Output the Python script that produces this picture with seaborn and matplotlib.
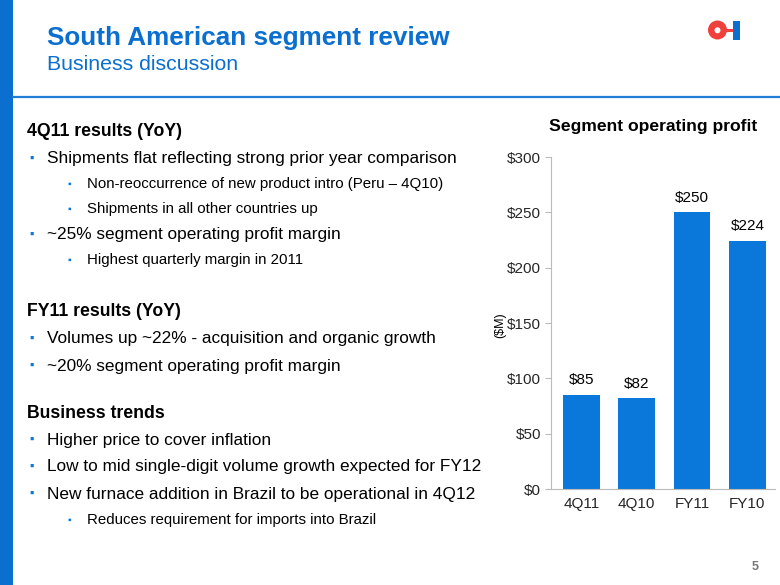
import matplotlib
matplotlib.use("Agg")
import matplotlib.pyplot as plt
import matplotlib.patches as mpatches
import pandas as pd
import seaborn as sns

# chart data
periods = ["4Q11", "4Q10", "FY11", "FY10"]
profit = [85, 82, 250, 224]
ytick_vals = [0, 50, 100, 150, 200, 250, 300]

# slide text
title = "South American segment review"
subtitle = "Business discussion"
chart_title = "Segment operating profit"
# (level, text): 0 = header, 1 = bullet, 2 = sub-bullet
bullets = [
    (0, "4Q11 results (YoY)"),
    (1, "Shipments flat reflecting strong prior year comparison"),
    (2, "Non-reoccurrence of new product intro (Peru \u2013 4Q10)"),
    (2, "Shipments in all other countries up"),
    (1, "~25% segment operating profit margin"),
    (2, "Highest quarterly margin in 2011"),
    (0, "FY11 results (YoY)"),
    (1, "Volumes up ~22% - acquisition and organic growth"),
    (1, "~20% segment operating profit margin"),
    (0, "Business trends"),
    (1, "Higher price to cover inflation"),
    (1, "Low to mid single-digit volume growth expected for FY12"),
    (1, "New furnace addition in Brazil to be operational in 4Q12"),
    (2, "Reduces requirement for imports into Brazil"),
]
bullet_y = [132, 159, 184, 209, 235, 260, 312, 339, 366, 413, 440, 467, 494, 520]

sns.set_theme(style="white")
plt.rcParams["font.family"] = ["Liberation Sans", "DejaVu Sans"]

BLUE = "#0A77DA"
DARKBLUE = "#0A6FCF"
RED = "#F0403C"
W, H = 780, 585
fig = plt.figure(figsize=(7.8, 5.85), dpi=100)
fig.patch.set_facecolor("white")

# overlay in pixel coordinates for slide decoration and text
bg = fig.add_axes([0, 0, 1, 1])
bg.set_xlim(0, W)
bg.set_ylim(H, 0)
bg.axis("off")

bg.add_patch(mpatches.Rectangle((0, 0), 13, H, color=DARKBLUE, lw=0))
bg.plot([13, W], [97, 97], color="#1F7FD8", lw=1.6)

bg.text(47, 38, title, fontsize=18.8, fontweight="bold", color=DARKBLUE,
        va="center", ha="left")
bg.text(47, 65, subtitle, fontsize=15.3, color=DARKBLUE, va="center", ha="left")

# logo
bg.add_patch(mpatches.Rectangle((724, 28.5), 10, 3.5, facecolor=RED, lw=0))
bg.add_patch(mpatches.Circle((717.5, 30), 9.5, facecolor=RED, lw=0))
bg.add_patch(mpatches.Circle((717.5, 30.3), 3.0, facecolor="white", lw=0))
bg.add_patch(mpatches.Rectangle((733, 21), 7, 18.5, facecolor=DARKBLUE, lw=0))

# bullets
for (level, text), y in zip(bullets, bullet_y):
    if level == 0:
        bg.text(27, y, text, fontsize=12.7, fontweight="bold", color="black",
                va="center", ha="left")
    elif level == 1:
        bg.text(29, y, "\u25aa", fontsize=9, color=BLUE, va="center", ha="left")
        bg.text(47, y, text, fontsize=12.4, color="black", va="center", ha="left")
    else:
        bg.text(67, y, "\u25aa", fontsize=7.5, color=BLUE, va="center", ha="left")
        bg.text(87, y, text, fontsize=10.8, color="black", va="center", ha="left")

bg.text(653.5, 127, chart_title, fontsize=12.6, fontweight="bold", color="black",
        ha="center", va="center")
bg.text(500, 325, "($M)", fontsize=9, color="black", rotation=90,
        ha="center", va="center")
bg.text(755, 567, "5", fontsize=9, fontweight="bold", color="#777777",
        ha="center", va="center")

# bar chart
ax = fig.add_axes([551 / W, 1 - 489 / H, (775 - 551) / W, (489 - 157) / H])
df = pd.DataFrame({"period": periods, "profit": profit})
sns.barplot(data=df, x="period", y="profit", color=BLUE, saturation=1, width=0.66,
            ax=ax)
for p in ax.patches:
    p.set_edgecolor("none")
for i, v in enumerate(profit):
    ax.text(i, v + 7, f"${v}", ha="center", va="bottom", fontsize=11, color="black")

ax.set_ylim(0, 300)
ax.set_xlim(-0.55, 3.5)
ax.set_yticks(ytick_vals)
ax.set_yticklabels([f"${v}" for v in ytick_vals], fontsize=11)
ax.tick_params(axis="x", labelsize=11, length=0, pad=6)
ax.tick_params(axis="y", length=4, width=0.8, color="#BBBBBB", left=True, pad=3)
ax.set_xlabel("")
ax.set_ylabel("")
for side in ["top", "right"]:
    ax.spines[side].set_visible(False)
for side in ["left", "bottom"]:
    ax.spines[side].set_color("#BBBBBB")
    ax.spines[side].set_linewidth(0.8)
ax.set_facecolor("white")

fig.savefig("out.png", dpi=100)
